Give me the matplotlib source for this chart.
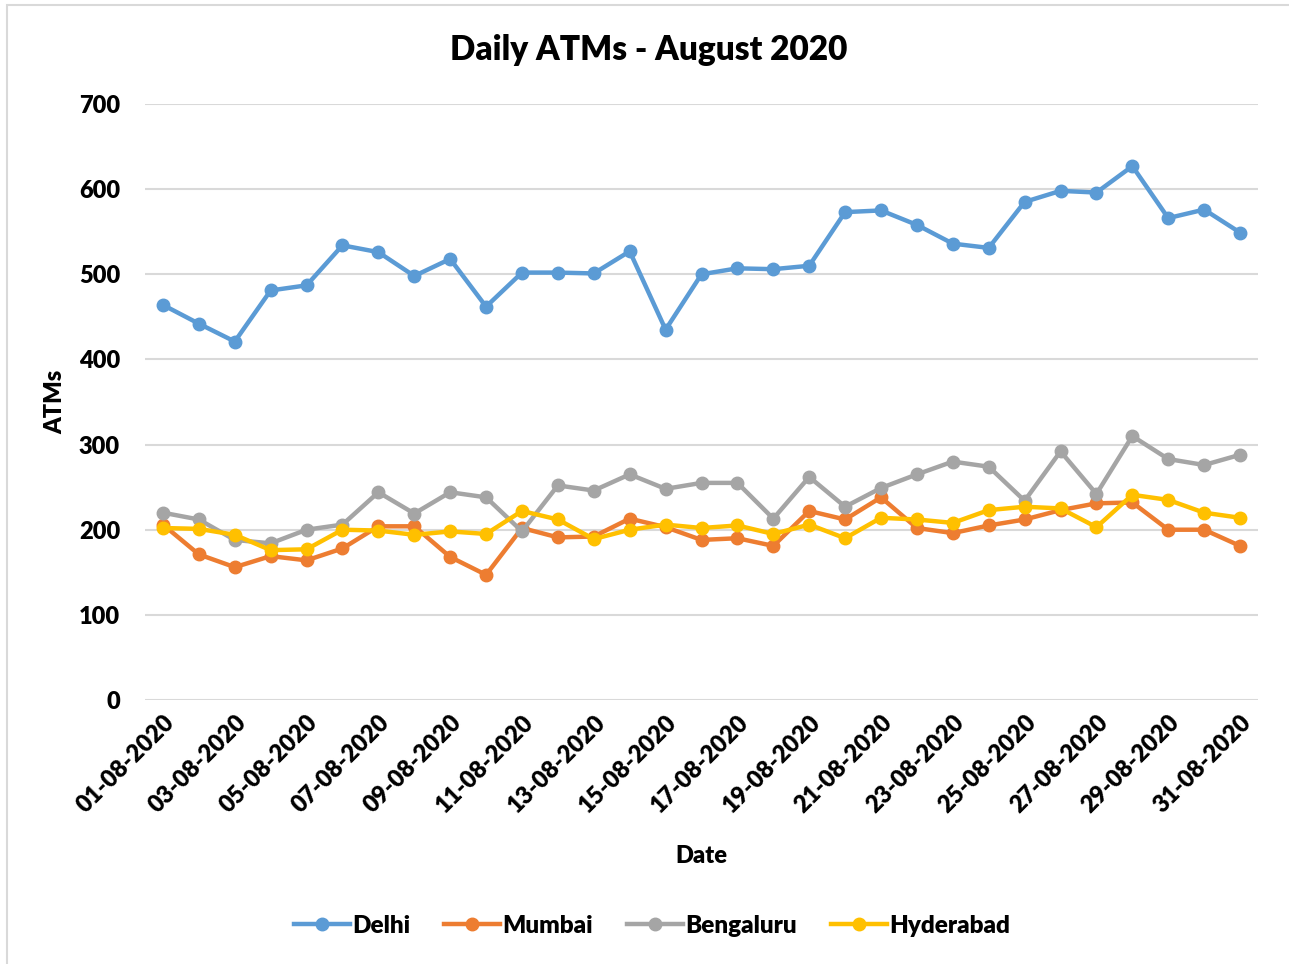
import matplotlib.pyplot as plt
from matplotlib.patches import Rectangle

plt.rcParams['font.family'] = ['Lato', 'DejaVu Sans']
plt.rcParams['font.weight'] = 'heavy'
plt.rcParams['axes.labelweight'] = 'heavy'

dates = ['%02d-08-2020' % d for d in range(1, 32)]

delhi = [464, 442, 421, 481, 487, 534, 526, 498, 518, 462, 502, 502, 501, 527, 435,
         500, 507, 506, 510, 573, 575, 558, 536, 531, 585, 598, 596, 627, 566, 576, 549]
mumbai = [206, 171, 156, 169, 164, 178, 204, 204, 168, 147, 202, 191, 192, 213, 203,
          188, 190, 181, 222, 212, 238, 202, 196, 205, 212, 223, 231, 232, 200, 200, 181]
bengaluru = [220, 212, 188, 184, 200, 206, 244, 219, 244, 238, 198, 252, 246, 265, 248,
             255, 255, 213, 262, 227, 249, 265, 280, 274, 234, 292, 242, 310, 283, 276, 288]
hyderabad = [202, 201, 194, 176, 177, 200, 199, 194, 198, 195, 222, 212, 189, 200, 206,
             202, 205, 195, 206, 190, 214, 212, 208, 223, 227, 225, 203, 241, 235, 220, 214]

series = [('Delhi', delhi, '#5B9BD5'),
          ('Mumbai', mumbai, '#ED7D31'),
          ('Bengaluru', bengaluru, '#A5A5A5'),
          ('Hyderabad', hyderabad, '#FFC000')]

fig = plt.figure(figsize=(12.89, 9.64), dpi=100)
# light chart-area border
fig.patches.append(Rectangle((7 / 1289, -0.1), 1.2, 1 - 5 / 964 + 0.1,
                             transform=fig.transFigure, fill=False,
                             edgecolor='#D9D9D9', linewidth=1.5))
ax = fig.add_axes([145 / 1289, 1 - 700 / 964, 1113 / 1289, 596 / 964])

x = list(range(len(dates)))
for name, vals, col in series:
    ax.plot(x, vals, '-o', color=col, linewidth=3.2, markersize=9, label=name)

ax.set_xlim(-0.5, len(dates) - 0.5)
ax.set_ylim(0, 700)
ax.set_yticks(range(0, 701, 100))
ax.yaxis.grid(True, color='#D9D9D9', linewidth=1.5)
ax.set_axisbelow(True)
for s in ax.spines.values():
    s.set_visible(False)
ax.tick_params(axis='both', length=0, labelsize=17)
ax.tick_params(axis='y', pad=18)
ax.tick_params(axis='x', pad=8)

ax.set_xticks(x[::2])
ax.set_xticklabels(dates[::2], rotation=45, ha='right', rotation_mode='anchor')

fig.text(649 / 1289, 1 - 50 / 964, 'Daily ATMs - August 2020', fontsize=24,
         fontweight='heavy', ha='center', va='center')
ax.set_xlabel('Date', fontsize=17, labelpad=20)
ax.set_ylabel('ATMs', fontsize=17, labelpad=9)

fig.legend(loc='center', bbox_to_anchor=(652 / 1289, 1 - 926 / 964), ncol=4,
           frameon=False, fontsize=17.5, handlelength=2.3, columnspacing=1.4,
           handletextpad=0.1)

fig.savefig('out.png', dpi=100)
